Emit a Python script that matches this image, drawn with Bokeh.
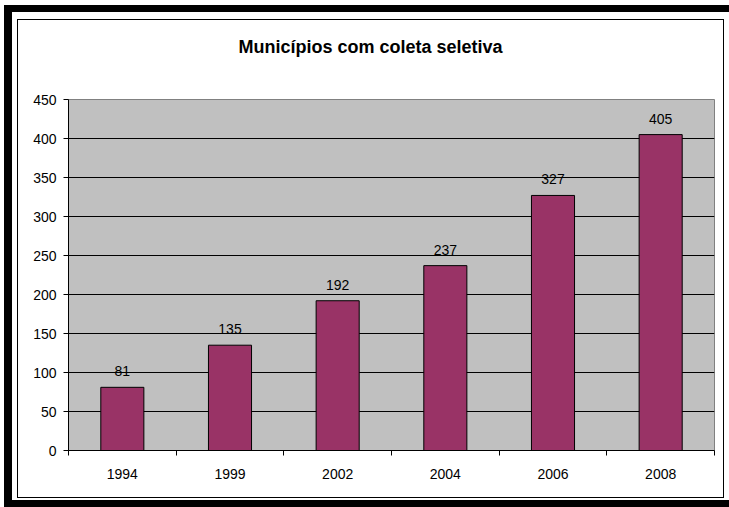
from bokeh.plotting import figure
from bokeh.models import (FactorRange, Range1d, LinearAxis, FixedTicker,
                          ColumnDataSource, Title, InlineStyleSheet)
from bokeh.core.properties import value
from bokeh.embed import file_html
from bokeh.resources import INLINE

title = "Municípios com coleta seletiva"
years = ["1994", "1999", "2002", "2004", "2006", "2008"]
counts = [81, 135, 192, 237, 327, 405]
y_ticks = [0, 50, 100, 150, 200, 250, 300, 350, 400, 450]

FONT = "Liberation Sans"
W, H = 729, 507

p = figure(width=W, height=H, x_range=FactorRange(*years, range_padding=0),
           y_range=Range1d(0, 450), output_backend="svg", toolbar_location=None,
           x_axis_location=None, tools="", title=None)
p.min_border_left = 68
p.min_border_right = 15
p.min_border_top = 99
p.min_border_bottom = 57
p.background_fill_color = "#C0C0C0"
p.border_fill_color = "white"
p.outline_line_color = "#808080"
p.outline_line_width = 1

src = ColumnDataSource(dict(x=years, y=counts, t=[str(c) for c in counts]))
p.vbar(x="x", top="y", bottom=0, width=0.4, source=src,
       fill_color="#993366", line_color="black", line_width=1)
p.text(x="x", y="y", text="t", source=src, text_align="center",
       text_baseline="alphabetic", y_offset=-16,
       text_font=value(FONT), text_font_size="14px", text_color="black")

# y axis
ya = p.yaxis[0]
ya.ticker = FixedTicker(ticks=y_ticks)
ya.axis_line_color = "black"
ya.major_tick_out = 5
ya.major_tick_in = 0
ya.minor_tick_line_color = None
ya.major_label_standoff = 7
ya.major_label_text_font = FONT
ya.major_label_text_font_size = "14px"
ya.major_label_text_color = "black"

p.xgrid.visible = False
p.ygrid.ticker = FixedTicker(ticks=y_ticks[1:-1])
p.ygrid.grid_line_color = "black"
p.ygrid.grid_line_width = 1

# x axis: labels centered on categories, ticks at category boundaries
n = len(years)
xa = LinearAxis(ticker=FixedTicker(ticks=[i + 0.5 for i in range(n)],
                                   minor_ticks=list(range(n + 1))),
                major_label_overrides={i + 0.5: years[i] for i in range(n)})
xa.axis_line_color = "black"
xa.major_tick_out = 0
xa.major_tick_in = 0
xa.minor_tick_out = 5
xa.minor_tick_in = 0
xa.minor_tick_line_color = "black"
xa.major_label_standoff = 13
xa.major_label_text_font = FONT
xa.major_label_text_font_size = "14px"
xa.major_label_text_color = "black"
p.add_layout(xa, "below")

# spacer between plot area and title, then the title itself
p.add_layout(Title(text=" ", text_font_size="1px", standoff=40), "above")
p.add_layout(Title(text=title, align="left", offset=170, standoff=0,
                   text_font=FONT, text_font_size="18px", text_font_style="bold",
                   text_color="black"), "above")

# chart-area borders (thick outer frame, thin inner frame)
css = """
:host::before {
  content: ""; position: absolute; left: 4px; top: 5px; width: 725px; height: 502px;
  box-sizing: border-box; border-left: 8px solid black; border-top: 7px solid black;
  border-bottom: 7px solid black; pointer-events: none; z-index: 100;
}
:host::after {
  content: ""; position: absolute; left: 17px; top: 19px; width: 707px; height: 479px;
  box-sizing: border-box; border: 1px solid black; pointer-events: none; z-index: 100;
}
"""
p.stylesheets = [InlineStyleSheet(css=css)]

open("out.html", "w").write(file_html(p, INLINE))
